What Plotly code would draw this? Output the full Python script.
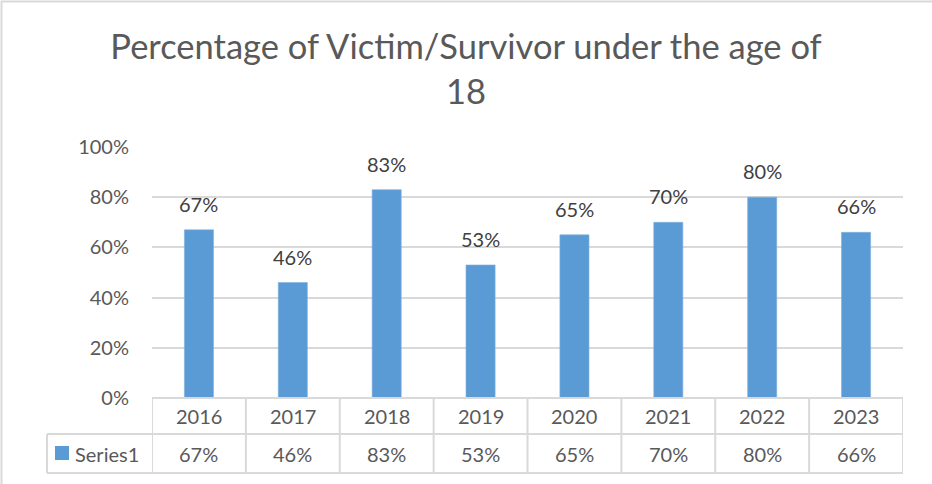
import plotly.graph_objects as go

years = ["2016", "2017", "2018", "2019", "2020", "2021", "2022", "2023"]
values = [67, 46, 83, 53, 65, 70, 80, 66]
series_name = "Series1"
title_text = "Percentage of Victim/Survivor under the age of<br>18"

W, H = 932, 484
L, R, T, B = 152, 29, 147, 86
plot_h = H - T - B
plot_w = W - L - R

def py(px):  # pixel y -> paper y
    return (H - B - px) / plot_h

def pxx(px):  # pixel x -> paper x
    return (px - L) / plot_w

FONT = "Lato"
TXT = "#595959"
GRID = "#d9d9d9"
BAR = "#5b9bd5"
FS = 20

fig = go.Figure()
fig.add_trace(go.Bar(
    x=years, y=values, name=series_name,
    marker=dict(color=BAR, line=dict(color="#7fb0de", width=0.6)),
    width=0.31,
    hoverinfo="x+y",
))

shapes = []
# outer chart border
shapes.append(dict(type="rect", xref="paper", yref="paper",
                   x0=pxx(1.5), x1=pxx(W + 5), y0=py(H + 5), y1=py(1.5),
                   line=dict(color=GRID, width=2), layer="below"))
# table horizontal lines
row_top, row_mid, row_bot = 398, 434, 473
leg_left = 47
shapes.append(dict(type="line", xref="paper", yref="paper",
                   x0=0, x1=1, y0=py(row_top), y1=py(row_top),
                   line=dict(color=GRID, width=2)))
for yy in (row_mid, row_bot):
    shapes.append(dict(type="line", xref="paper", yref="paper",
                       x0=pxx(leg_left), x1=1, y0=py(yy), y1=py(yy),
                       line=dict(color=GRID, width=2)))
# table vertical lines
for i in range(len(years) + 1):
    shapes.append(dict(type="line", xref="x", yref="paper",
                       x0=i - 0.5, x1=i - 0.5, y0=py(row_top), y1=py(row_bot),
                       line=dict(color=GRID, width=2)))
shapes.append(dict(type="line", xref="paper", yref="paper",
                   x0=pxx(leg_left), x1=pxx(leg_left), y0=py(row_mid), y1=py(row_bot),
                   line=dict(color=GRID, width=2)))
# legend key square
shapes.append(dict(type="rect", xref="paper", yref="paper",
                   x0=pxx(55), x1=pxx(69), y0=py(460), y1=py(446),
                   fillcolor=BAR, line=dict(width=0)))

annotations = []
for i, (yr, v) in enumerate(zip(years, values)):
    # data label above bar
    annotations.append(dict(x=i, y=v, xref="x", yref="y",
                            text=f"{v}%", showarrow=False, yanchor="bottom", yshift=12,
                            font=dict(family=FONT, size=FS, color="#404040")))
    annotations.append(dict(x=i, y=py((row_top + row_mid) / 2), xref="x", yref="paper",
                            text=yr, showarrow=False, yanchor="middle",
                            font=dict(family=FONT, size=FS, color=TXT)))
    annotations.append(dict(x=i, y=py((row_mid + row_bot) / 2), xref="x", yref="paper",
                            text=f"{v}%", showarrow=False, yanchor="middle",
                            font=dict(family=FONT, size=FS, color=TXT)))
annotations.append(dict(x=pxx(73), y=py((row_mid + row_bot) / 2), xref="paper", yref="paper",
                        text=series_name, showarrow=False, xanchor="left", yanchor="middle",
                        font=dict(family=FONT, size=FS, color=TXT)))

fig.update_layout(
    width=W, height=H,
    margin=dict(l=L, r=R, t=T, b=B),
    paper_bgcolor="white", plot_bgcolor="white",
    title=dict(text=title_text, x=0.5, xanchor="center", xref="container",
               y=1 - 59 / H, yanchor="top",
               font=dict(family=FONT, size=34.5, color=TXT)),
    showlegend=False,
    xaxis=dict(type="category", range=[-0.5, len(years) - 0.5],
               showticklabels=False, showgrid=False, zeroline=False, showline=False),
    yaxis=dict(range=[0, 100], tickvals=[0, 20, 40, 60, 80, 100],
               ticktext=["0%", "20%", "40%", "60%", "80%", "100%"],
               showgrid=True, gridcolor=GRID, gridwidth=2, zeroline=False, showline=False,
               ticks="outside", ticklen=18, tickcolor="rgba(0,0,0,0)",
               tickfont=dict(family=FONT, size=FS, color=TXT)),
    shapes=shapes, annotations=annotations,
)

fig.write_html("out.html", config={"displayModeBar": False},
               post_script="document.body.style.margin='0';")
